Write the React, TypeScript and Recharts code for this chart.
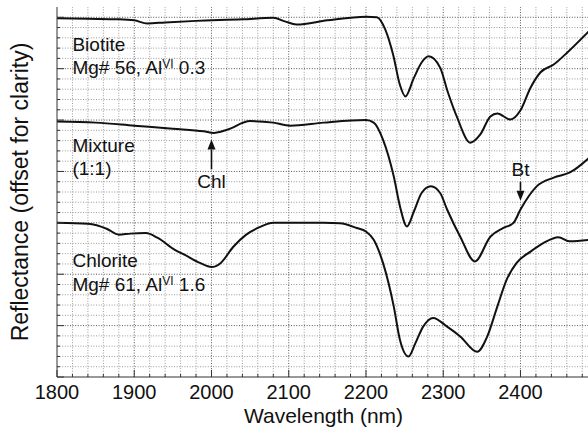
import React from 'react';
import {
  LineChart, Line, XAxis, YAxis, ReferenceDot, ReferenceLine, Label,
} from 'recharts';

// wavelength (nm) vs reflectance, offset per sample
const biotite = [
  [1800, 6.98], [1840, 6.97], [1880, 6.96], [1900, 6.94], [1917, 6.88], [1940, 6.9],
  [1980, 6.93], [2040, 6.96], [2080, 6.99], [2095, 6.92], [2110, 6.86], [2150, 6.94],
  [2200, 7.01], [2214, 7.0], [2225, 6.76], [2235, 6.28], [2244, 5.68], [2251, 5.46],
  [2262, 5.82], [2272, 6.12], [2281, 6.24], [2296, 6.02], [2306, 5.54], [2318, 5.05],
  [2335, 4.56], [2348, 4.72], [2361, 5.07], [2370, 5.13], [2387, 5.01], [2400, 5.19],
  [2413, 5.63], [2426, 5.93], [2443, 6.08], [2461, 6.32], [2490, 6.75],
].map(([nm, v]) => ({ nm, v }));

const mixture = [
  [1800, 4.97], [1850, 4.95], [1900, 4.89], [1950, 4.83], [1990, 4.78], [2003, 4.75],
  [2020, 4.81], [2050, 4.98], [2080, 4.95], [2102, 4.89], [2145, 4.95], [2200, 5.0],
  [2210, 4.95], [2222, 4.62], [2236, 3.9], [2244, 3.32], [2253, 2.93], [2262, 3.22],
  [2272, 3.58], [2284, 3.71], [2296, 3.58], [2305, 3.26], [2322, 2.73], [2341, 2.25],
  [2361, 2.73], [2378, 2.9], [2391, 3.0], [2400, 3.26], [2421, 3.71], [2443, 3.88],
  [2464, 3.98], [2490, 4.28],
].map(([nm, v]) => ({ nm, v }));

const chlorite = [
  [1800, 3.0], [1840, 2.98], [1865, 2.88], [1880, 2.77], [1895, 2.79], [1915, 2.8],
  [1930, 2.71], [1952, 2.48], [1965, 2.38], [1985, 2.22], [2000, 2.14], [2012, 2.22],
  [2028, 2.53], [2045, 2.77], [2063, 2.92], [2080, 3.0], [2145, 3.0], [2166, 2.99],
  [2188, 2.9], [2200, 2.83], [2210, 2.67], [2222, 2.22], [2236, 1.37], [2244, 0.72],
  [2255, 0.4], [2264, 0.66], [2274, 0.98], [2287, 1.15], [2305, 0.98], [2322, 0.79],
  [2344, 0.49], [2357, 0.79], [2370, 1.37], [2382, 1.89], [2395, 2.22], [2413, 2.44],
  [2430, 2.61], [2449, 2.72], [2464, 2.64], [2490, 2.67],
].map(([nm, v]) => ({ nm, v }));

const X_MIN = 1800;
const X_MAX = 2490;
const Y_MIN = 0;
const Y_MAX = 7.2;

const xLabelTicks = [1800, 1900, 2000, 2100, 2200, 2300, 2400];
const xMinorTicks = [
  1800, 1820, 1840, 1860, 1880, 1900, 1920, 1940, 1960, 1980, 2000, 2020, 2040, 2060, 2080,
  2100, 2120, 2140, 2160, 2180, 2200, 2220, 2240, 2260, 2280, 2300, 2320, 2340, 2360, 2380,
  2400, 2420, 2440, 2460, 2480,
];
const yMajorTicks = [0, 1, 2, 3, 4, 5, 6, 7];
const yMinorTicks = [
  0, 0.2, 0.4, 0.6, 0.8, 1, 1.2, 1.4, 1.6, 1.8, 2, 2.2, 2.4, 2.6, 2.8, 3, 3.2, 3.4, 3.6, 3.8,
  4, 4.2, 4.4, 4.6, 4.8, 5, 5.2, 5.4, 5.6, 5.8, 6, 6.2, 6.4, 6.6, 6.8, 7,
];

const sampleLabels = [
  { nm: 1820, v: 6.34, text: 'Biotite' },
  { nm: 1820, v: 5.89, text: 'Mg# 56, Al', sup: 'VI', rest: ' 0.3' },
  { nm: 1820, v: 4.37, text: 'Mixture' },
  { nm: 1820, v: 3.94, text: '(1:1)' },
  { nm: 1820, v: 2.15, text: 'Chlorite' },
  { nm: 1820, v: 1.68, text: 'Mg# 61, Al', sup: 'VI', rest: ' 1.6' },
];
const arrowLabels = [
  { text: 'Chl', nm: 2000, textV: 3.68, from: 4.04, to: 4.62 },
  { text: 'Bt', nm: 2400, textV: 3.92, from: 3.8, to: 3.43 },
];

const isMajorY = (v: number) => Math.abs(v - Math.round(v)) < 1e-6;

// grid lines as two-point series so they go through the same scales
const gridLines = [
  ...xMinorTicks.slice(1).map((x) => ({
    major: x % 100 === 0,
    data: [{ nm: x, v: Y_MIN }, { nm: x, v: Y_MAX }],
  })),
  ...yMinorTicks.slice(1).map((y) => ({
    major: isMajorY(y),
    data: [{ nm: X_MIN, v: y }, { nm: X_MAX, v: y }],
  })),
];

const FONT = '"Liberation Sans", Arial, Helvetica, sans-serif';
const AXIS = '#333';

const BottomTick = (props: any) => {
  const { x, y, payload } = props;
  const major = payload.value % 100 === 0;
  return (
    <g>
      <line x1={x} x2={x} y1={y} y2={y - (major ? 7 : 3)} stroke={AXIS} />
      {major && (
        <text x={x} y={y + 22} textAnchor="middle" fontSize={20} fill="#111" fontFamily={FONT}>
          {payload.value}
        </text>
      )}
    </g>
  );
};

const TopTick = (props: any) => (
  <line x1={props.x} x2={props.x} y1={props.y} y2={props.y + 7} stroke={AXIS} />
);

const LeftTick = (props: any) => {
  const { x, y, payload } = props;
  return <line x1={x} x2={x + (isMajorY(payload.value) ? 7 : 3)} y1={y} y2={y} stroke={AXIS} />;
};

const RightTick = (props: any) => (
  <line x1={props.x} x2={props.x - 7} y1={props.y} y2={props.y} stroke={AXIS} />
);

const SampleText = ({ cx, cy, item }: any) => (
  <text x={cx} y={cy} fontSize={19} fill="#111" fontFamily={FONT}>
    {item.text}
    {item.sup && <tspan dy={-6} fontSize={12}>{item.sup}</tspan>}
    {item.rest && <tspan dy={6}>{item.rest}</tspan>}
  </text>
);

const Arrow = (props: any) => {
  const { x1, y1, x2, y2 } = props;
  const dir = y2 > y1 ? 1 : -1;
  const head = 10;
  return (
    <g>
      <line x1={x1} y1={y1} x2={x2} y2={y2 - dir * head} stroke="#111" strokeWidth={1.6} />
      <path d={`M${x2},${y2} L${x2 - 4},${y2 - dir * head} L${x2 + 4},${y2 - dir * head} Z`} fill="#111" />
    </g>
  );
};

const XTitle = ({ viewBox }: any) => (
  <text
    x={viewBox.x + viewBox.width / 2} y={viewBox.y + viewBox.height - 4}
    textAnchor="middle" fontSize={21} fill="#111" fontFamily={FONT}
  >
    Wavelength (nm)
  </text>
);

const YTitle = ({ viewBox }: any) => {
  const x = viewBox.x + 28;
  const y = viewBox.y + viewBox.height / 2;
  return (
    <text x={x} y={y} transform={`rotate(-90 ${x} ${y})`} textAnchor="middle" fontSize={23} fill="#111" fontFamily={FONT}>
      Reflectance (offset for clarity)
    </text>
  );
};

const App: React.FC = () => (
  <div style={{ position: 'absolute', left: 0, top: 0, width: 588, height: 427, overflow: 'hidden', background: '#fff' }}>
    <LineChart width={590} height={427} margin={{ top: 7, right: 0, bottom: 0, left: 0 }}>
      <XAxis
        xAxisId="b" type="number" dataKey="nm" domain={[X_MIN, X_MAX]} ticks={xMinorTicks} interval={0}
        height={50} tickSize={0} tickMargin={0} tickLine={false} tick={<BottomTick />}
        axisLine={{ stroke: AXIS }}
      >
        <Label content={<XTitle />} />
      </XAxis>
      <XAxis
        xAxisId="t" orientation="top" type="number" dataKey="nm" domain={[X_MIN, X_MAX]} ticks={xLabelTicks}
        interval={0} height={0} tickSize={0} tickMargin={0} tickLine={false} tick={<TopTick />}
        axisLine={{ stroke: AXIS }}
      />
      <YAxis
        yAxisId="l" type="number" domain={[Y_MIN, Y_MAX]} ticks={yMinorTicks} interval={0} width={57}
        tickSize={0} tickMargin={0} tickLine={false} tick={<LeftTick />} axisLine={{ stroke: AXIS }}
      >
        <Label content={<YTitle />} />
      </YAxis>
      <YAxis
        yAxisId="r" orientation="right" type="number" domain={[Y_MIN, Y_MAX]} ticks={yMajorTicks} interval={0}
        width={0} tickSize={0} tickMargin={0} tickLine={false} tick={<RightTick />} axisLine={{ stroke: AXIS }}
      />
      {/* dotted grid: light minor lines, darker major lines */}
      {gridLines.map((g, i) => (
        <Line
          key={'g' + i} xAxisId="b" yAxisId="l" data={g.data} dataKey="v" type="linear"
          stroke={g.major ? '#555555' : '#9a9a9a'} strokeWidth={1} strokeDasharray="1 1.6"
          dot={false} activeDot={false} isAnimationActive={false} legendType="none"
        />
      ))}
      {[biotite, mixture, chlorite].map((d, i) => (
        <Line
          key={i} xAxisId="b" yAxisId="l" data={d} dataKey="v" type="monotone" stroke="#111"
          strokeWidth={2} dot={false} activeDot={false} isAnimationActive={false}
        />
      ))}
      {sampleLabels.map((s, i) => (
        <ReferenceDot
          key={'s' + i} xAxisId="b" yAxisId="l" x={s.nm} y={s.v} r={0}
          shape={(p: any) => <SampleText cx={p.cx} cy={p.cy} item={s} />}
        />
      ))}
      {arrowLabels.map((a, i) => (
        <ReferenceLine
          key={'a' + i} xAxisId="b" yAxisId="l"
          segment={[{ x: a.nm, y: a.from }, { x: a.nm, y: a.to }]}
          shape={<Arrow />}
        />
      ))}
      {arrowLabels.map((a, i) => (
        <ReferenceDot
          key={'t' + i} xAxisId="b" yAxisId="l" x={a.nm} y={a.textV} r={0}
          shape={(p: any) => (
            <text x={p.cx} y={p.cy} textAnchor="middle" fontSize={19} fill="#111" fontFamily={FONT}>{a.text}</text>
          )}
        />
      ))}
    </LineChart>
  </div>
);

export default App;
